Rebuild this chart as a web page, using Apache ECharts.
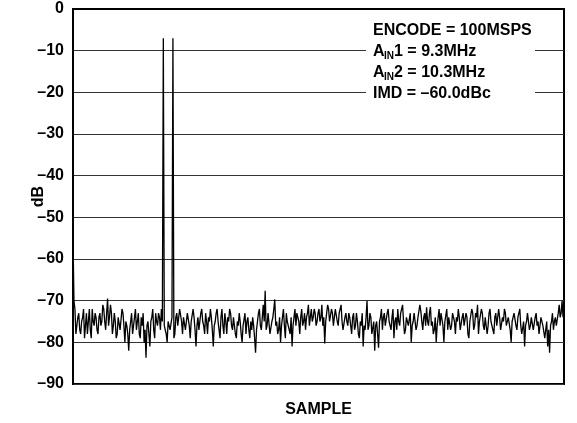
<!DOCTYPE html>
<html>
<head>
<meta charset="utf-8">
<script src="https://cdn.jsdelivr.net/npm/echarts@6/dist/echarts.min.js"></script>
<style>
html,body{margin:0;padding:0;background:#fff;}
#c{width:577px;height:423px;}
</style>
</head>
<body>
<div id="c"></div>
<script>
// y-axis tick values (dB)
var yTicks = [0, -10, -20, -30, -40, -50, -60, -70, -80, -90];
// annotation text
var noteLines = ['ENCODE = 100MSPS', '1 = 9.3MHz', '2 = 10.3MHz', 'IMD = \u201360.0dBc'];
// spectrum samples (dB), 512 bins from DC to fs/2
var spectrum = [
  -55,-70, -72,-78, -76,-74, -73,-77, -78,-75, -74,-72, -79,-76, -73,-78, -75,-72, -77,-79, -72,-75, -76,-73, -74,-77, -78,-74, -73,-76, -75,-71,
  -72,-75, -77,-73, -69.5,-76, -74,-71, -73,-78, -76,-73, -75,-79, -78,-74, -74,-77, -77,-72, -73,-76, -80,-75, -76,-78, -82,-77, -75,-73, -78,-76,
  -74,-72, -77,-75, -73,-78, -79,-74, -76,-73, -80,-77, -83.7,-76, -75,-78, -81,-75, -74,-72, -77,-79, -73,-75, -76,-73, -74,-77, -72,-75, -7,-76,
  -76,-78, -80,-75, -75,-77, -77,-74, -7,-79, -78,-74, -73,-76, -76,-72, -72,-75, -78,-74, -74,-77, -77,-73, -73,-76, -79,-75, -75,-72, -74,-77,
  -81,-76, -74,-77, -77,-73, -72,-75, -76,-78, -73,-75, -78,-74, -75,-72, -74,-77, -81,-76, -75,-73, -72,-75, -77,-79, -74,-72, -76,-78, -73,-75,
  -78,-74, -75,-72, -73,-76, -77,-74, -74,-78, -79,-75, -76,-73, -75,-78, -80,-76, -76,-73, -78,-75, -74,-77, -79,-75, -77,-74, -76,-79, -82.5,-77,
  -75,-73, -72,-76, -77,-74, -71,-75, -67.6,-77, -76,-73, -73,-78, -78,-75, -74,-72, -69.7,-76, -75,-78, -77,-74, -80,-76, -74,-72, -76,-79, -73,-75,
  -75,-77, -78,-74, -81,-76, -74,-72, -76,-73, -73,-75, -78,-74, -72,-76, -75,-73, -77,-74, -73,-71, -76,-74, -72,-75, -74,-72, -73,-76, -75,-73,
  -72,-75, -74,-71, -76,-74, -80.3,-75, -73,-71, -72,-75, -75,-72, -73,-76, -74,-72, -72,-75, -76,-73, -73,-71, -75,-77, -77,-74, -73,-75, -76,-73,
  -74,-76, -78,-74, -73,-77, -76,-73, -75,-78, -79,-75, -76,-73, -81,-76, -77,-74, -70,-77, -76,-73, -74,-78, -78,-75, -82,-76, -75,-78, -81.3,-75,
  -74,-72, -77,-74, -73,-76, -76,-73, -72,-75, -75,-77, -74,-72, -79,-75, -74,-77, -72,-75, -76,-73, -73,-71, -75,-78, -77,-74, -74,-76, -76,-73,
  -80,-76, -75,-73, -73,-77, -76,-74, -74,-71, -72.5,-75, -77,-74, -73,-76, -71.6,-75, -76,-73, -71.5,-76, -75,-78, -77,-74, -80,-76, -74,-72, -76,-73,
  -73,-76, -80,-75, -75,-72, -77,-74, -74,-77, -76,-73, -73,-75, -78,-74, -75,-72, -74,-77, -77,-74, -73,-76, -76,-73, -74,-78, -79,-75, -75,-72,
  -73,-77, -76,-73, -74,-71, -78,-75, -75,-72, -73,-76, -77,-74, -74,-78, -76,-73, -72,-75, -75,-77, -78,-74, -73,-76, -76,-72, -74,-77, -77,-74,
  -75,-72, -73,-76, -76,-74, -74,-77, -80,-75, -75,-73, -73,-76, -77,-74, -74,-72, -76,-78, -78,-75, -81,-76, -75,-73, -73,-77, -76,-74, -74,-77,
  -77,-74, -73,-76, -75,-78, -78,-74, -74,-76, -76,-79, -79,-75, -81,-77, -82.5,-76, -75,-73, -77,-75, -74,-76, -76,-73, -71,-74, -73,-70, -74,-73
];

var pts = spectrum.map(function (v, i) { return [i, v]; });
var FONT = 'Liberation Sans, Arial, Helvetica, sans-serif';
var FS = 16;
var chart = echarts.init(document.getElementById('c'), null, {renderer: 'canvas'});

var tx = 373, ty0 = 31, dy = 21;
var graphics = [
  {type: 'rect', z: 100, shape: {x: 366, y: 19, width: 169, height: 85}, style: {fill: '#fff'}},
  {type: 'text', z: 101, x: tx, y: ty0, style: {text: noteLines[0], font: 'bold ' + FS + 'px ' + FONT, fill: '#000', verticalAlign: 'middle'}}
];
[1, 2].forEach(function (k) {
  var y = ty0 + dy * k;
  graphics.push({type: 'text', z: 101, x: tx, y: y, style: {text: 'A', font: 'bold ' + FS + 'px ' + FONT, fill: '#000', verticalAlign: 'middle'}});
  graphics.push({type: 'text', z: 101, x: tx + 11, y: y + 4, style: {text: 'IN', font: 'bold 10px ' + FONT, fill: '#000', verticalAlign: 'middle'}});
  graphics.push({type: 'text', z: 101, x: tx + 21, y: y, style: {text: noteLines[k], font: 'bold ' + FS + 'px ' + FONT, fill: '#000', verticalAlign: 'middle'}});
});
graphics.push({type: 'text', z: 101, x: tx, y: ty0 + dy * 3, style: {text: noteLines[3], font: 'bold ' + FS + 'px ' + FONT, fill: '#000', verticalAlign: 'middle'}});

chart.setOption({
  animation: false,
  backgroundColor: '#fff',
  grid: {left: 73, top: 9, right: 13, bottom: 32, show: true, borderColor: '#000', borderWidth: 2, backgroundColor: 'transparent'},
  xAxis: {
    type: 'value', min: 0, max: spectrum.length - 1,
    name: 'SAMPLE', nameLocation: 'middle', nameGap: 18,
    nameTextStyle: {fontFamily: FONT, fontWeight: 'bold', fontSize: FS, color: '#000'},
    axisLine: {show: true, lineStyle: {color: '#000', width: 2}},
    axisTick: {show: false}, axisLabel: {show: false}, splitLine: {show: false}
  },
  yAxis: {
    type: 'value', min: yTicks[yTicks.length - 1], max: yTicks[0], interval: 10,
    name: 'dB', nameLocation: 'middle', nameGap: 26, nameRotate: 90, nameMoveOverlap: false,
    nameTextStyle: {fontFamily: FONT, fontWeight: 'bold', fontSize: FS, color: '#000'},
    axisLine: {show: true, lineStyle: {color: '#000', width: 2}},
    axisTick: {show: false},
    axisLabel: {
      margin: 9, fontFamily: FONT, fontWeight: 'bold', fontSize: FS, color: '#000',
      formatter: function (v) { return String(v).replace('-', '\u2013'); }
    },
    splitLine: {show: true, lineStyle: {color: '#333', width: 1}}
  },
  series: [{
    type: 'line', data: pts, showSymbol: false, symbol: 'none',
    lineStyle: {color: '#000', width: 1.3}, z: 5
  }],
  graphic: graphics
});
</script>
</body>
</html>
